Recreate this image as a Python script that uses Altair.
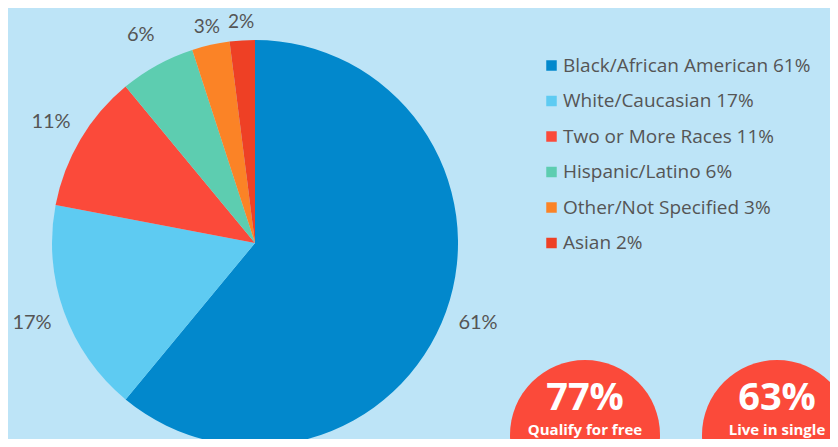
import altair as alt
import pandas as pd

categories = ["Black/African American", "White/Caucasian", "Two or More Races",
              "Hispanic/Latino", "Other/Not Specified", "Asian"]
values = [61, 17, 11, 6, 3, 2]
colors = ["#0288cc", "#5ecbf2", "#fb4a3a", "#5dcdb0", "#fb8326", "#ee4025"]

stat_values = ["77%", "63%"]
stat_captions = ["Qualify for free", "Live in single"]

legend_labels = [f"{c} {v}%" for c, v in zip(categories, values)]
df = pd.DataFrame({
    "category": categories,
    "value": values,
    "order": list(range(len(categories))),
    "legend": legend_labels,
    "pct": [f"{v}%" for v in values],
})

stats_df = pd.DataFrame({
    "idx": list(range(len(stat_values))),
    "stat": stat_values,
    "caption": stat_captions,
})

theta_scale = alt.Scale(domain=[0, sum(values)])

pie = alt.Chart(df).mark_arc(radius=203, clip=True).encode(
    theta=alt.Theta("value:Q", stack=True, scale=theta_scale),
    order=alt.Order("order:Q"),
    x=alt.value(247), y=alt.value(235),
    color=alt.Color(
        "legend:N",
        scale=alt.Scale(domain=legend_labels, range=colors),
        sort=legend_labels,
        legend=alt.Legend(
            title=None, orient="none", legendX=534, legendY=48,
            symbolType="square", symbolSize=110, symbolStrokeWidth=0,
            labelFontSize=19, labelColor="#555555", labelFont="Open Sans",
            rowPadding=15.5, labelOffset=2, labelLimit=400,
        ),
    ),
)

label_base = alt.Chart(df).transform_window(
    cum="sum(value)", sort=[alt.SortField("order")],
    frame=[None, 0],
).transform_calculate(
    mid="datum.cum - datum.value / 2"
).encode(
    theta=alt.Theta("mid:Q", stack=None, scale=theta_scale),
    x=alt.value(247), y=alt.value(235), text="pct:N",
)
labels_big = label_base.transform_filter("datum.value >= 6").mark_text(
    radius=237, fontSize=20, color="#555555", font="Lato")
labels_small = label_base.transform_filter("datum.value < 6").mark_text(
    radius=221, fontSize=19, color="#555555", font="Lato")

xscale = alt.Scale(domain=[0, 1], range=[577, 769])
stats_base = alt.Chart(stats_df).encode(
    x=alt.X("idx:Q", scale=xscale, axis=None)
)
circles = stats_base.mark_circle(size=22500, color="#fb4a3a", opacity=1, clip=True).encode(
    y=alt.value(427)
)
stat_text = stats_base.mark_text(fontSize=38, fontWeight="bold", color="white",
                                 font="Open Sans").encode(y=alt.value(391), text="stat:N")
cap_text = stats_base.mark_text(fontSize=15, fontWeight="bold", color="white",
                                font="Open Sans").encode(y=alt.value(422), text="caption:N")

chart = alt.layer(pie, labels_big, labels_small, circles, stat_text, cap_text).properties(
    width=822, height=431,
    autosize=alt.AutoSizeParams(type="none"),
    padding=0,
).configure(background="#bde4f7").configure_view(stroke=None)

chart.save("out.html", embed_options={"renderer": "svg", "actions": False})
